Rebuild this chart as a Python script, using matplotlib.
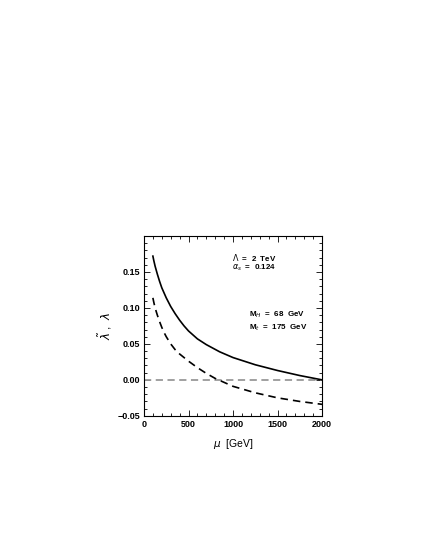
import numpy as np
import matplotlib.pyplot as plt
from matplotlib.ticker import MultipleLocator

# running quartic couplings
mu_solid = [100, 110, 125, 150, 175, 200, 225, 250, 300, 350, 400, 450, 500, 600, 700, 850,
            1000, 1250, 1500, 1750, 2000]
lam_solid = [0.172, 0.166, 0.158, 0.147, 0.137, 0.128, 0.121, 0.114, 0.102, 0.092, 0.083, 0.075,
             0.068, 0.057, 0.049, 0.039, 0.031, 0.021, 0.013, 0.006, 0.000]

mu_dash = [100, 110, 125, 150, 175, 200, 225, 250, 300, 350, 400, 450, 500, 600, 700, 800,
           1000, 1250, 1500, 1750, 2000]
lam_dash = [0.114, 0.108, 0.100, 0.090, 0.081, 0.073, 0.066, 0.060, 0.050, 0.042, 0.036, 0.031,
            0.026, 0.017, 0.009, 0.002, -0.009, -0.018, -0.025, -0.030, -0.034]

xticks = [0, 500, 1000, 1500, 2000]
yticks = [-0.05, 0.00, 0.05, 0.10, 0.15]

plt.rcParams['font.family'] = ['Liberation Sans', 'DejaVu Sans']
plt.rcParams['mathtext.fontset'] = 'dejavusans'

fig = plt.figure(figsize=(4.21, 5.45), dpi=100)
ax = fig.add_axes([0.342, 0.237, 0.423, 0.330])

ax.axhline(0.0, color='#999999', lw=1.3, ls=(0, (4, 2.5)))
ax.plot(mu_solid, lam_solid, color='black', lw=1.2, solid_joinstyle='round')
ax.plot(mu_dash, lam_dash, color='black', lw=1.2, ls=(0, (4.5, 3)))

ax.set_xlim(0, 2000)
ax.set_ylim(-0.05, 0.20)
ax.set_xticks(xticks)
ax.set_yticks(yticks)
ax.set_yticklabels(['\u22120.05', '0.00', '0.05', '0.10', '0.15'])
ax.xaxis.set_minor_locator(MultipleLocator(100))
ax.yaxis.set_minor_locator(MultipleLocator(0.01))
ax.tick_params(which='both', direction='in', top=True, right=True,
               labelsize=6.5, width=0.6, pad=3)
ax.tick_params(which='major', length=4)
ax.tick_params(which='minor', length=2)
for lab in ax.get_xticklabels() + ax.get_yticklabels():
    lab.set_fontweight('bold')
for s in ax.spines.values():
    s.set_linewidth(0.8)

ax.set_xlabel(r'$\mu$  [GeV]', fontsize=7.5, labelpad=6)
ax.set_ylabel(r'$\tilde{\lambda}$ ,  $\lambda$', fontsize=8.5, labelpad=2)

fs = 5.8
ax.text(0.494, 0.878, r'$\Lambda$  =  2  TeV', transform=ax.transAxes, fontsize=fs,
        fontweight='bold', va='center')
ax.text(0.494, 0.822, r'$\alpha_s$  =  0.124', transform=ax.transAxes, fontsize=fs,
        fontweight='bold', va='center')
ax.text(0.59, 0.56, r'M$_H$  =  68  GeV', transform=ax.transAxes, fontsize=fs,
        fontweight='bold', va='center')
ax.text(0.59, 0.488, r'M$_t$  =  175  GeV', transform=ax.transAxes, fontsize=fs,
        fontweight='bold', va='center')

fig.savefig('out.png', dpi=100)
